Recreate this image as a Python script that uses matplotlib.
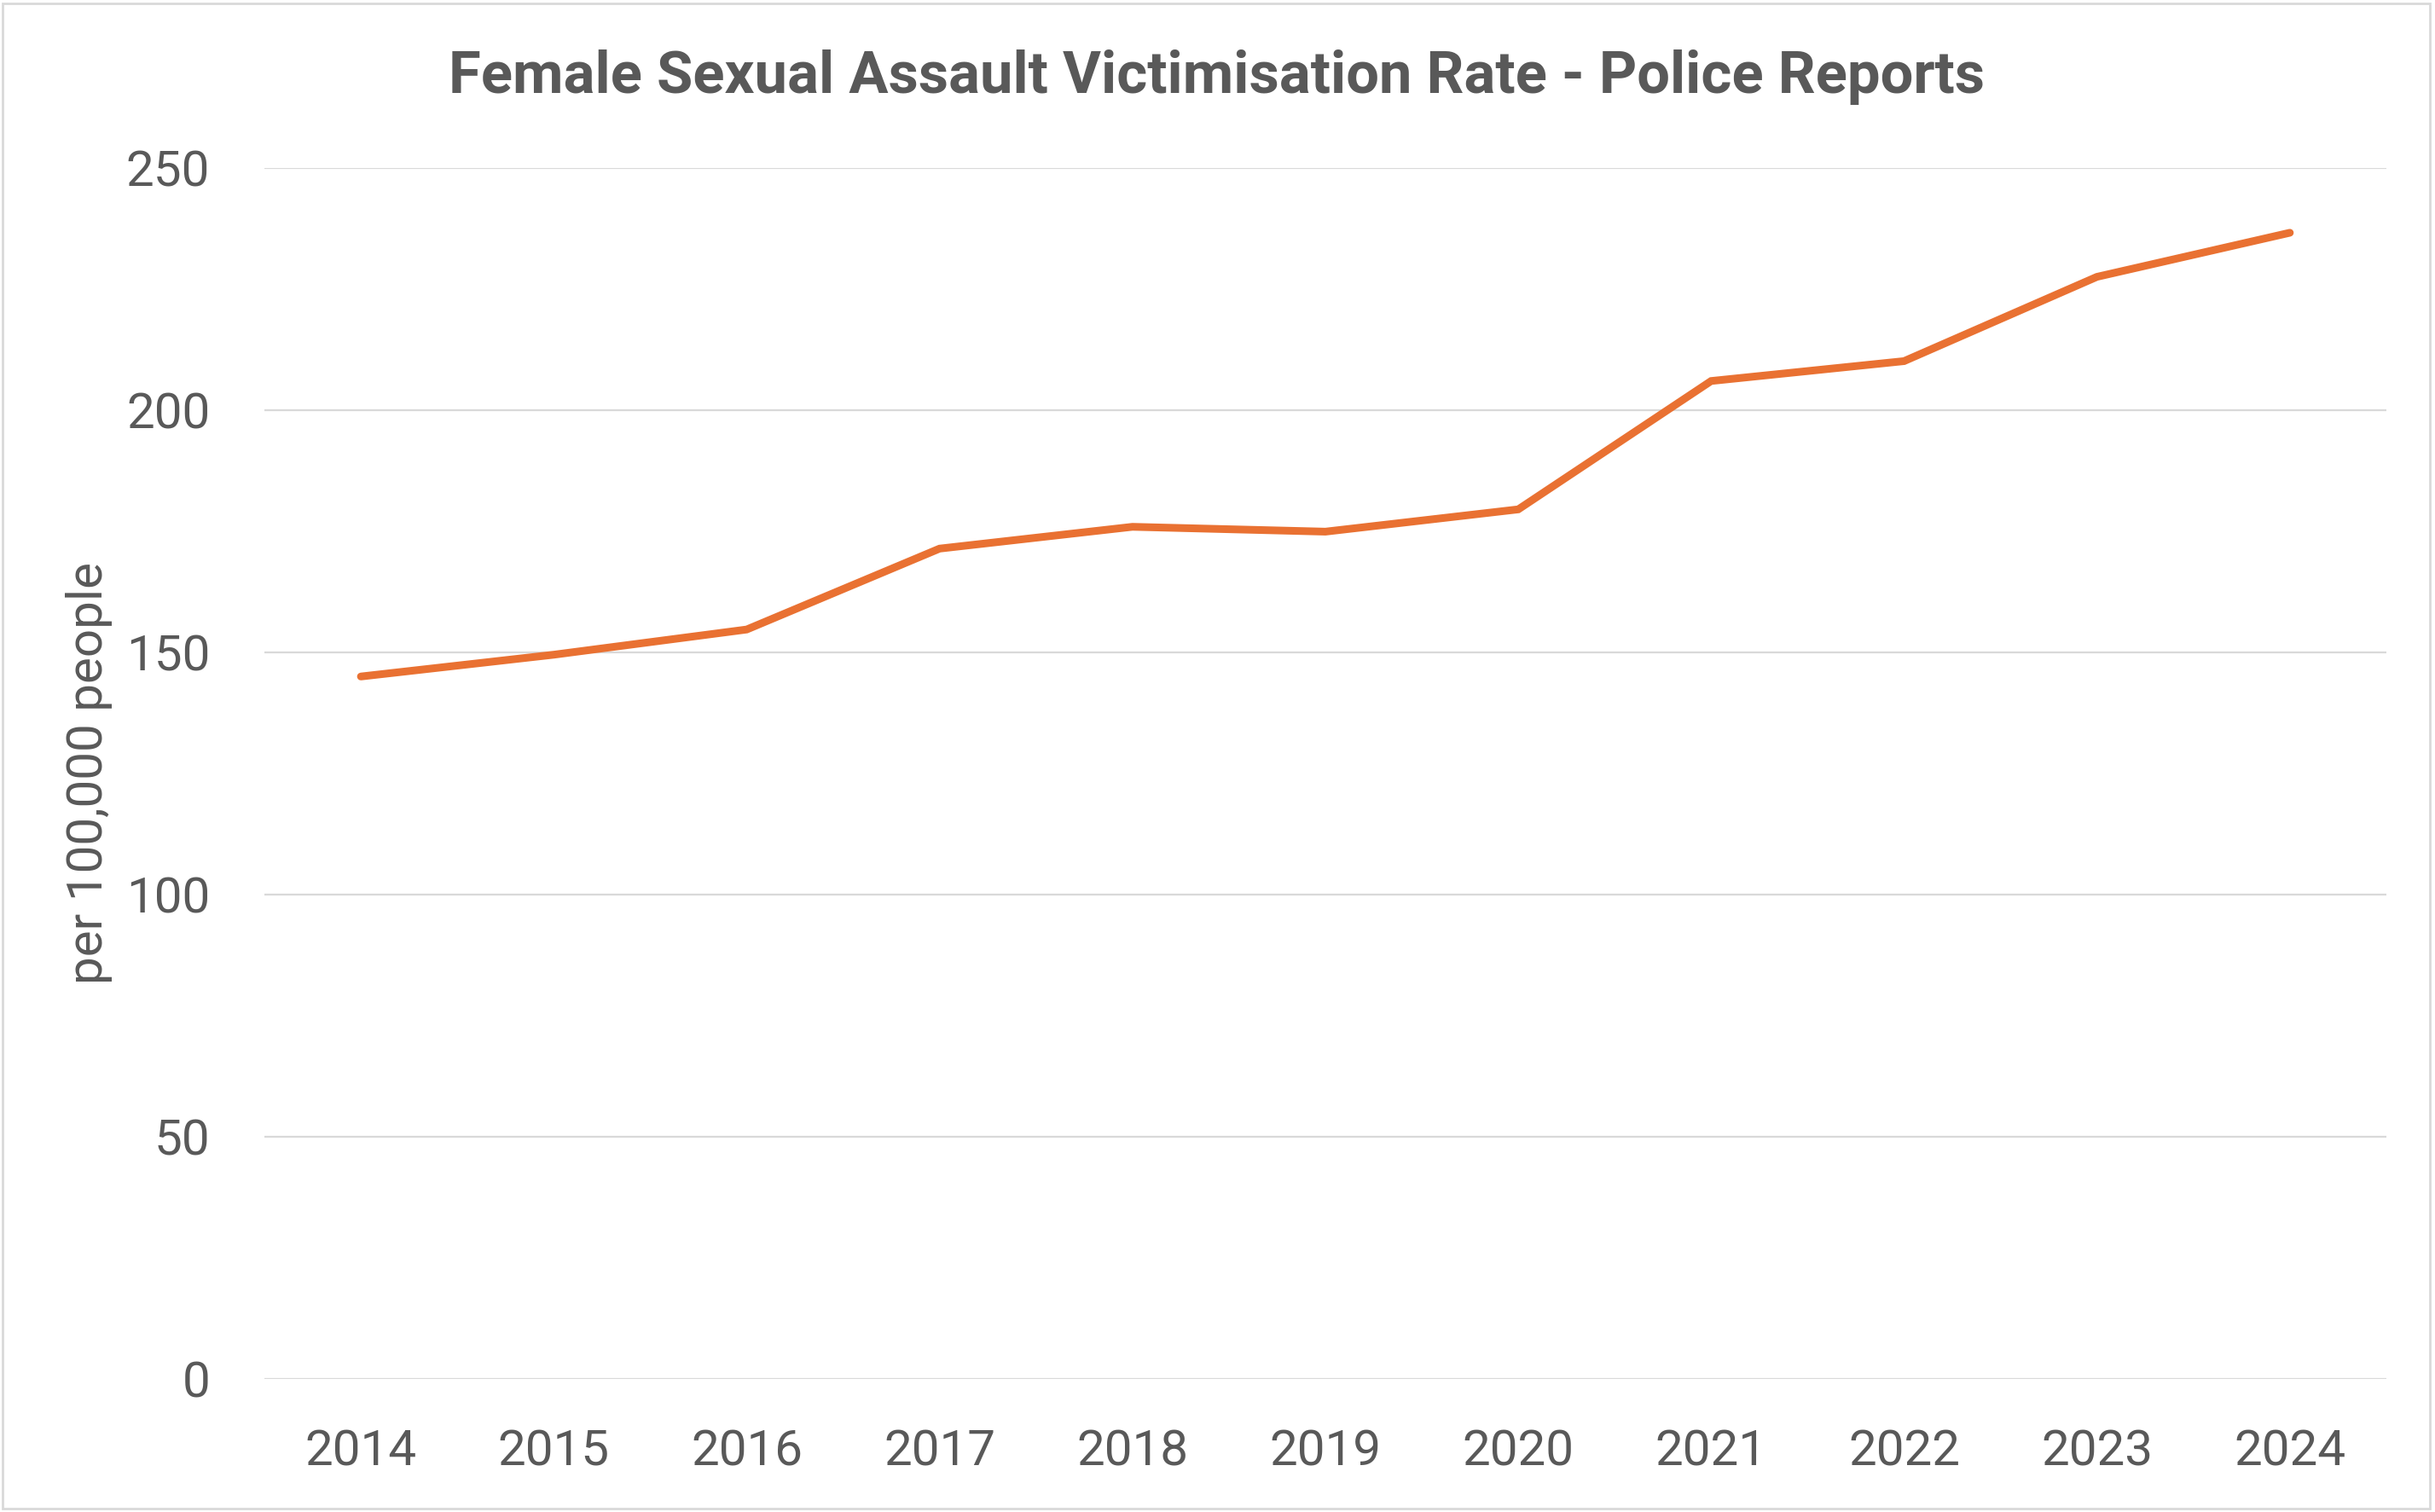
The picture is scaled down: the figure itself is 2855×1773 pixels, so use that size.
import matplotlib
matplotlib.use("Agg")
import matplotlib.pyplot as plt
from matplotlib.patches import Rectangle

years = ["2014", "2015", "2016", "2017", "2018", "2019", "2020", "2021", "2022", "2023", "2024"]
rate = [145.0, 149.5, 154.7, 171.4, 175.9, 174.9, 179.5, 206.0, 210.1, 227.5, 236.6]
y_ticks = [0, 50, 100, 150, 200, 250]

grey = "#595959"
plt.rcParams['font.family'] = ['Roboto', 'DejaVu Sans']

fig = plt.figure(figsize=(28.55, 17.73), dpi=100)
ax = fig.add_axes([0.1086, 0.088, 0.8714, 0.801])

x = list(range(len(years)))
ax.plot(x, rate, color="#E97132", linewidth=6.5, solid_capstyle="round", solid_joinstyle="miter", zorder=3)

ax.set_xlim(-0.5, len(years) - 0.5)
ax.set_ylim(0, 250)
ax.set_yticks(y_ticks)
ax.set_xticks(x)
ax.set_xticklabels(years)
ax.grid(True, axis="y", color="#D9D9D9", linewidth=1.6)
ax.set_axisbelow(True)
for s in ax.spines.values():
    s.set_visible(False)
ax.tick_params(axis="both", length=0, labelsize=42, colors=grey)
ax.tick_params(axis="x", pad=42)
ax.tick_params(axis="y", pad=46)

ax.set_ylabel("per 100,000 people", fontsize=42, color=grey)
ax.yaxis.set_label_coords(-0.0715, 0.5)

fig.text(0.4995, 0.949, "Female Sexual Assault Victimisation Rate - Police Reports",
         ha="center", va="center", fontsize=49.5, fontweight="bold", color=grey)

fig.patches.append(Rectangle((0.001, 0.002), 0.997, 0.996, transform=fig.transFigure,
                             fill=False, edgecolor="#D9D9D9", linewidth=2))

fig.savefig("out.png", dpi=100, facecolor="white")
